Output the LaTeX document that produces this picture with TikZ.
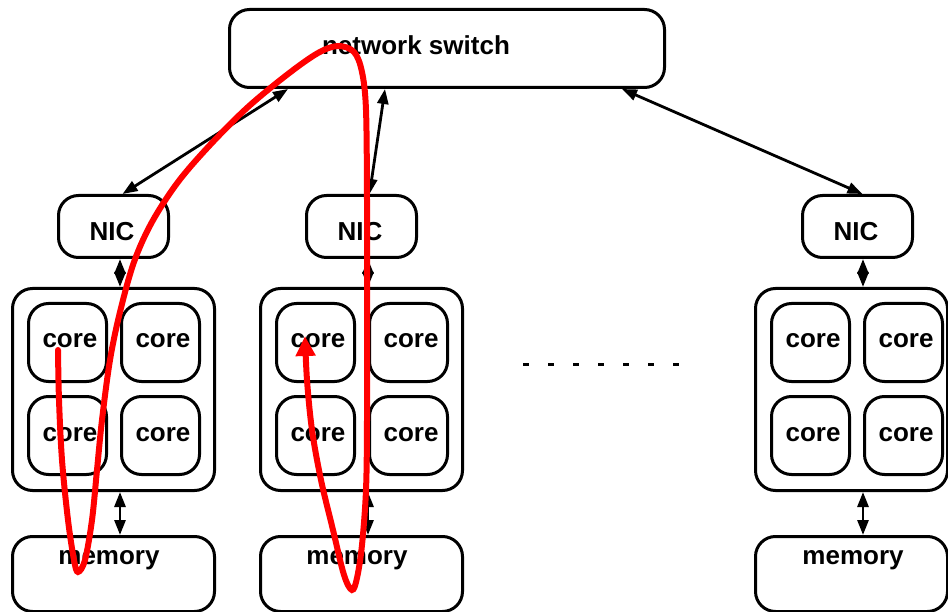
\documentclass[tikz,border=0pt]{standalone}
\usepackage{fontspec}
\setmainfont{Liberation Sans}
\usetikzlibrary{arrows.meta}

\begin{document}
\begin{tikzpicture}[x=1pt,y=-1pt,
  box/.style={draw, line width=3pt, rounded corners=20pt, inner sep=0pt, anchor=north west},
  nicbox/.style={box, minimum width=110pt, minimum height=62pt},
  corebox/.style={box, minimum width=78pt, minimum height=78pt},
  lbl/.style={font=\fontsize{26}{30}\selectfont\bfseries, inner sep=0pt, anchor=base},
  link/.style={line width=2.8pt, {Triangle[length=15pt,width=11pt]}-{Triangle[length=15pt,width=11pt]}},
  trace/.style={red, line width=6pt, line cap=round, -{Triangle[length=20pt,width=19pt]}}
]
\useasboundingbox (0,0) rectangle (948,612);

% switch
\node[box, minimum width=435pt, minimum height=78pt] (sw) at (228,8) {};
\node[lbl] (swtxt) at (416,55) {network switch};

% network interfaces
\node[nicbox] (nicA) at (57,194) {};
\node[nicbox] (nicB) at (305,194) {};
\node[nicbox] (nicC) at (801,194) {};
\node[lbl] (nicAt) at (112,241) {NIC};
\node[lbl] (nicBt) at (360,241) {NIC};
\node[lbl] (nicCt) at (856,241) {NIC};

% processor packages
\node[box, minimum width=202pt, minimum height=202pt] (clA) at (11,287) {};
\node[box, minimum width=202pt, minimum height=202pt] (clB) at (259,287) {};
\node[box, minimum width=192pt, minimum height=202pt] (clC) at (754,287) {};

% cores
\foreach \n/\x in {A/27,B/275,C/770}{
  \pgfmathsetmacro{\xx}{\x+93}
  \node[corebox] (core\n1) at (\x,302) {};
  \node[corebox] (core\n2) at (\xx,302) {};
  \node[corebox] (core\n3) at (\x,395) {};
  \node[corebox] (core\n4) at (\xx,395) {};
  \pgfmathsetmacro{\ta}{\x+43}
  \pgfmathsetmacro{\tb}{\x+136}
  \node[lbl] (core\n1t) at (\ta,348) {core};
  \node[lbl] (core\n2t) at (\tb,348) {core};
  \node[lbl] (core\n3t) at (\ta,441) {core};
  \node[lbl] (core\n4t) at (\tb,441) {core};
}

% memories
\node[box, minimum width=202pt, minimum height=75pt] (memA) at (11,535) {};
\node[box, minimum width=202pt, minimum height=75pt] (memB) at (259,535) {};
\node[box, minimum width=192pt, minimum height=75pt] (memC) at (754,535) {};
\node[lbl] (memAt) at (109,564) {memory};
\node[lbl] (memBt) at (357,564) {memory};
\node[lbl] (memCt) at (853,564) {memory};

% links
\draw[link] ([xshift=60pt]sw.south west) -- ([xshift=9pt]nicA.north);
\draw[link] ([xshift=157pt]sw.south west) -- ([xshift=8pt]nicB.north);
\draw[link] ([xshift=-44pt]sw.south east) -- ([xshift=5pt]nicC.north);
\foreach \n in {A,B,C}{
  \draw[link] (nic\n.south -| core\n2.west) -- (cl\n.north -| core\n2.west);
  \draw[link] (cl\n.south -| core\n2.west) -- (mem\n.north -| core\n2.west);
}

% more nodes
\coordinate (dotsL) at (523,364);
\coordinate (dotsR) at (679,364);
\draw[line width=3pt, dash pattern=on 6pt off 19pt] (dotsL) -- (dotsR);

% message path
\draw[trace] plot[smooth, tension=0.55] coordinates {
  (58,350) (59,400) (62,460) (68,520) (74,560) (78,572) (85,560) (92,520)
  (97,470) (102,420) (110,360) (120,312) (134,262) (152,222) (178,182)
  (210,145) (248,107) (288,74) (318,53) (338,46) (354,52) (362,72)
  (366,110) (367,200) (367,300) (367,420) (366,490) (362,545) (357,578)
  (352,590) (344,575) (333,530) (321,480) (312,430) (307,380) (305,336)};
\end{tikzpicture}
\end{document}
